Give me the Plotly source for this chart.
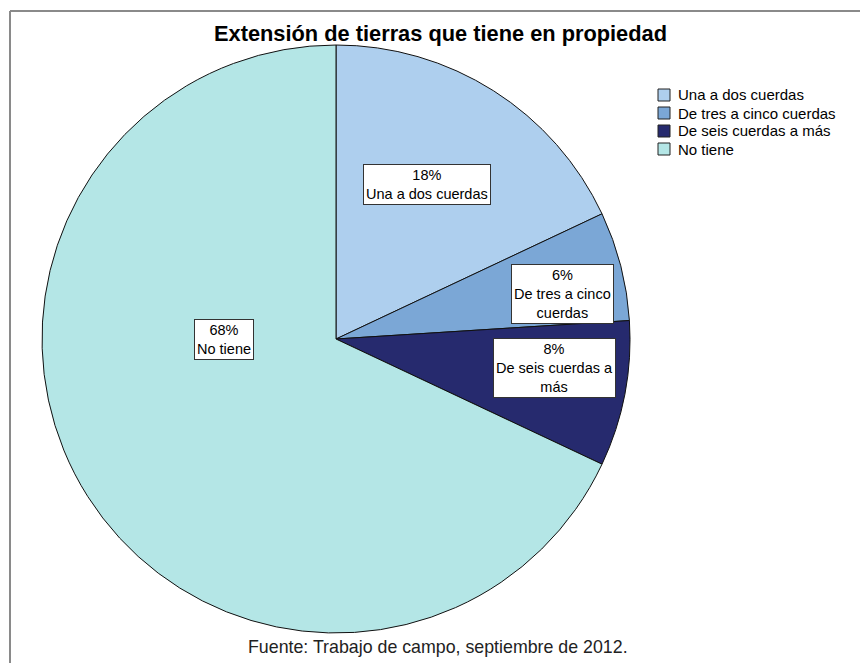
import plotly.graph_objects as go

# Survey result: land owned by households
categories = ["Una a dos cuerdas", "De tres a cinco cuerdas", "De seis cuerdas a más", "No tiene"]
percentages = [18, 6, 8, 68]
label_texts = ["Una a dos cuerdas", "De tres a cinco<br>cuerdas", "De seis cuerdas a<br>más", "No tiene"]
colors = ["#AECFEE", "#7BA7D6", "#262A6E", "#B4E6E6"]

title_text = "Extensión de tierras que tiene en propiedad"
source_text = "Fuente: Trabajo de campo, septiembre de 2012."

W, H = 860, 663
FONT = "Liberation Sans, Arial, sans-serif"

# pie placement (pixels)
cx, cy, r = 336, 339, 294

# label box centres (pixels), one per slice
label_pos = [(427, 184), (562, 294), (554, 368), (224, 339)]

# legend layout (pixels)
leg_x, leg_y0, leg_step, sw = 658, 95, 18, 12


def px(x):
    return x / W


def py(y):
    return 1 - y / H


fig = go.Figure(
    go.Pie(
        labels=categories,
        values=percentages,
        sort=False,
        direction="clockwise",
        rotation=0,
        marker=dict(colors=colors, line=dict(color="#111111", width=1)),
        textinfo="none",
        hoverinfo="label+percent",
        showlegend=False,
        domain=dict(x=[px(cx - r), px(cx + r)], y=[py(cy + r), py(cy - r)]),
    )
)

annotations = []
shapes = []

# value labels in white boxes
for val, txt, (lx, ly) in zip(percentages, label_texts, label_pos):
    annotations.append(
        dict(
            x=px(lx), y=py(ly), xref="paper", yref="paper",
            xanchor="center", yanchor="middle",
            text=f"{val}%<br>{txt}",
            showarrow=False,
            font=dict(family=FONT, size=14.5, color="#000000"),
            bgcolor="#FFFFFF", bordercolor="#333333", borderwidth=1, borderpad=2,
            align="center",
        )
    )

# legend: swatch + category name
for i, (cat, col) in enumerate(zip(categories, colors)):
    yc = leg_y0 + i * leg_step
    shapes.append(
        dict(type="rect", xref="paper", yref="paper",
             x0=px(leg_x), x1=px(leg_x + sw), y0=py(yc + sw / 2), y1=py(yc - sw / 2),
             fillcolor=col, line=dict(color="#222222", width=1))
    )
    annotations.append(
        dict(x=px(leg_x + sw + 6), y=py(yc), xref="paper", yref="paper",
             xanchor="left", yanchor="middle", text=cat, showarrow=False,
             font=dict(family=FONT, size=15, color="#000000"))
    )

annotations.append(
    dict(
        x=px(440), y=py(33), xref="paper", yref="paper",
        text=f"<b>{title_text}</b>", showarrow=False,
        font=dict(family=FONT, size=21.8, color="#000000"),
        xanchor="center", yanchor="middle",
    )
)
annotations.append(
    dict(
        x=px(438), y=py(647), xref="paper", yref="paper",
        text=source_text, showarrow=False,
        font=dict(family=FONT, size=17.8, color="#222222"),
        xanchor="center", yanchor="middle",
    )
)

# outer frame (left and top edges)
shapes += [
    dict(type="line", xref="paper", yref="paper", x0=px(10), x1=px(10), y0=0, y1=py(11),
         line=dict(color="#8A8A8A", width=2)),
    dict(type="line", xref="paper", yref="paper", x0=px(10), x1=1, y0=py(11), y1=py(11),
         line=dict(color="#8A8A8A", width=2)),
]

fig.update_layout(
    width=W, height=H,
    margin=dict(l=0, r=0, t=0, b=0),
    paper_bgcolor="#FFFFFF",
    plot_bgcolor="#FFFFFF",
    showlegend=False,
    annotations=annotations,
    shapes=shapes,
)

fig.write_html("out.html")
